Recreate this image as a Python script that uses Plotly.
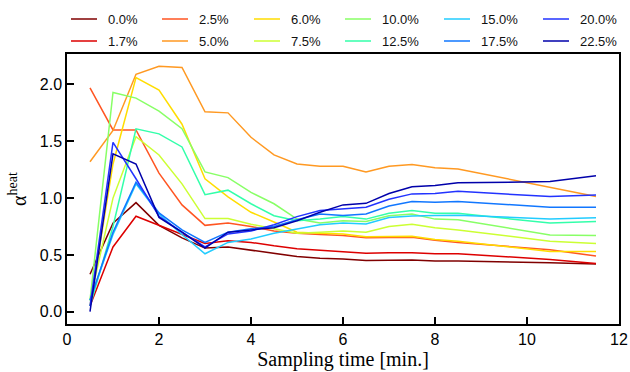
import plotly.graph_objects as go

times = [0.5, 1.0, 1.5, 2.0, 2.5, 3.0, 3.5, 4.0, 4.5, 5.0, 5.5, 6.0, 6.5, 7.0, 7.5, 8.0, 8.5, 10.5, 11.5]

labels = ["0.0%", "1.7%", "2.5%", "5.0%", "6.0%", "7.5%", "10.0%", "12.5%", "15.0%", "17.5%", "20.0%", "22.5%"]
colors = ["#800000", "#dd0000", "#ff5522", "#ff9922", "#ffdd00", "#ccff33",
          "#88ff66", "#33ffaa", "#22ccff", "#1177ff", "#2233ff", "#0000aa"]

s00 = [0.33, 0.78, 0.96, 0.76, 0.65, 0.56, 0.57, 0.54, 0.51, 0.485, 0.47, 0.465, 0.45, 0.45, 0.455, 0.447, 0.447, 0.43, 0.42]
s17 = [0.05, 0.57, 0.84, 0.76, 0.68, 0.60, 0.625, 0.61, 0.58, 0.555, 0.54, 0.53, 0.515, 0.52, 0.52, 0.51, 0.51, 0.46, 0.425]
s25 = [1.97, 1.60, 1.60, 1.22, 0.94, 0.76, 0.78, 0.75, 0.71, 0.69, 0.68, 0.67, 0.65, 0.655, 0.655, 0.63, 0.61, 0.545, 0.49]
s50 = [1.32, 1.595, 2.09, 2.16, 2.15, 1.76, 1.75, 1.535, 1.38, 1.30, 1.28, 1.28, 1.23, 1.28, 1.295, 1.266, 1.257, 1.09, 1.013]
s60 = [0.05, 1.30, 2.06, 1.95, 1.65, 1.17, 1.01, 0.875, 0.79, 0.70, 0.69, 0.685, 0.66, 0.66, 0.665, 0.635, 0.62, 0.53, 0.53]
s75 = [0.10, 1.00, 1.54, 1.38, 1.125, 0.82, 0.82, 0.77, 0.73, 0.69, 0.70, 0.71, 0.70, 0.75, 0.77, 0.74, 0.72, 0.62, 0.60]
s100 = [0.10, 1.93, 1.88, 1.765, 1.61, 1.23, 1.18, 1.05, 0.95, 0.815, 0.78, 0.80, 0.795, 0.845, 0.86, 0.815, 0.81, 0.675, 0.67]
s125 = [0.05, 0.75, 1.61, 1.565, 1.45, 1.03, 1.07, 0.95, 0.845, 0.80, 0.815, 0.837, 0.815, 0.866, 0.89, 0.866, 0.866, 0.78, 0.795]
s150 = [0.10, 0.68, 1.125, 0.86, 0.68, 0.51, 0.61, 0.64, 0.69, 0.73, 0.766, 0.78, 0.773, 0.83, 0.843, 0.846, 0.85, 0.817, 0.826]
s175 = [0.10, 0.70, 1.14, 0.87, 0.72, 0.61, 0.70, 0.73, 0.75, 0.81, 0.86, 0.846, 0.86, 0.93, 0.97, 0.963, 0.97, 0.92, 0.92]
s200 = [0.05, 1.49, 1.17, 0.84, 0.70, 0.57, 0.685, 0.71, 0.766, 0.837, 0.89, 0.905, 0.92, 0.99, 1.037, 1.04, 1.06, 1.013, 1.028]
s225 = [0.00, 1.39, 1.30, 0.83, 0.70, 0.56, 0.70, 0.72, 0.74, 0.80, 0.875, 0.94, 0.954, 1.04, 1.10, 1.11, 1.134, 1.145, 1.196]

series = [s00, s17, s25, s50, s60, s75, s100, s125, s150, s175, s200, s225]

x_ticks = [0, 2, 4, 6, 8, 10, 12]
y_ticks = [0.0, 0.5, 1.0, 1.5, 2.0]

W, H = 630, 372
ML, MR, MT, MB = 67, 11, 54, 48
PW, PH = W - ML - MR, H - MT - MB

# legend layout (pixel positions of the hand-drawn legend)
col_px = [71, 162, 254, 345, 444, 543]
row_px = [19, 41]
SAMPLE_LEN = 26
TEXT_GAP = 35


def px_to_paper(px, py):
    return (px - ML) / PW, (H - MB - py) / PH


fig = go.Figure()
shapes, annotations = [], []
for i, (lab, col, vals) in enumerate(zip(labels, colors, series)):
    fig.add_trace(go.Scatter(x=times, y=vals, mode="lines", name=lab,
                             line=dict(color=col, width=1.5)))
    c, r = i // 2, i % 2
    x0, y0 = px_to_paper(col_px[c], row_px[r])
    x1, _ = px_to_paper(col_px[c] + SAMPLE_LEN, row_px[r])
    xt, _ = px_to_paper(col_px[c] + TEXT_GAP, row_px[r])
    shapes.append(dict(type="line", xref="paper", yref="paper", x0=x0, x1=x1, y0=y0, y1=y0,
                       line=dict(color=col, width=1.5)))
    annotations.append(dict(xref="paper", yref="paper", x=xt, y=y0, text=lab,
                            showarrow=False, xanchor="left", yanchor="middle",
                            font=dict(family="Liberation Sans", size=13, color="#111")))

fig.update_layout(
    width=W, height=H,
    margin=dict(l=ML, r=MR, t=MT, b=MB, autoexpand=False),
    plot_bgcolor="white", paper_bgcolor="white",
    showlegend=False,
    shapes=shapes, annotations=annotations,
)

fig.update_xaxes(
    range=[0, 12], tickvals=x_ticks, ticks="inside", ticklen=7, tickwidth=1.5,
    tickcolor="black", showline=True, linewidth=1.5, linecolor="black", mirror=True,
    showgrid=False, zeroline=False,
    tickfont=dict(family="Liberation Sans", size=16, color="black"),
    title=dict(text="Sampling time [min.]", standoff=2,
               font=dict(family="Liberation Serif", size=20, color="black")),
)
fig.update_yaxes(
    range=[-0.108, 2.268], tickvals=y_ticks, tickformat=".1f", ticks="inside",
    ticklen=7, tickwidth=1.5, tickcolor="black", showline=True, linewidth=1.5,
    linecolor="black", mirror=True, showgrid=False, zeroline=False,
    tickfont=dict(family="Liberation Sans", size=16, color="black"),
    title=dict(text="α<sup>heat</sup>", standoff=8,
               font=dict(family="Liberation Serif", size=20, color="black")),
)

fig.write_html("out.html", config={"displayModeBar": False},
               post_script="document.body.style.margin='0';")
